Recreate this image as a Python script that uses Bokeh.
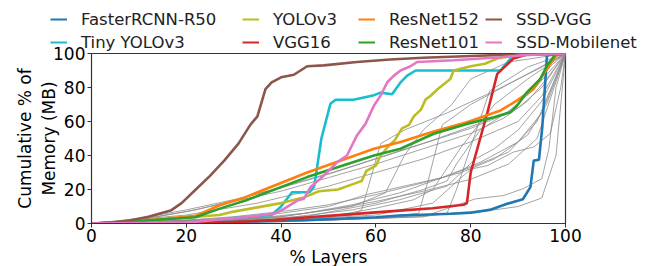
from bokeh.plotting import figure
from bokeh.layouts import column, row
from bokeh.models import Legend, LegendItem, Range1d, FixedTicker
from bokeh.embed import file_html
from bokeh.resources import INLINE

# ---- data (percent of layers vs cumulative % memory) ----
names = ["FasterRCNN-R50", "Tiny YOLOv3", "YOLOv3", "VGG16",
         "ResNet152", "ResNet101", "SSD-VGG", "SSD-Mobilenet"]
colors = ["#1f77b4", "#17becf", "#bcbd22", "#d62728",
          "#ff7f0e", "#2ca02c", "#8c564b", "#e377c2"]

frcnn_x = [0, 20, 31, 45, 60, 65, 76, 80, 84, 87.7, 91, 92.6, 93.3, 94.4, 95.1, 96.1, 100]
frcnn_y = [0, 0.3, 1, 2, 3.7, 4.7, 5.7, 6.3, 8, 11.6, 14.3, 21.4, 37, 37.5, 56.6, 99, 100]

tiny_x = [0, 20, 31, 38, 40, 42.3, 46, 47, 48.5, 50.4, 51.5, 55.3, 59.6, 61, 63.4, 65.2, 66.6, 68.4, 86.3, 88.4, 90, 100]
tiny_y = [0, 0.3, 3.5, 5, 10, 18.4, 18.4, 22, 50, 70.4, 72.8, 72.8, 75.5, 77, 76, 83, 87, 90, 90, 97, 99, 100]

yolo_x = [0, 10, 20, 27, 30, 35, 40, 45, 48, 52, 55, 57, 58, 60, 61, 62.5, 64, 65.5, 67, 68, 69.5, 70.5, 71.5, 73, 75.7, 76.4, 80, 83, 85.6, 91, 100]
yolo_y = [0, 1, 3.5, 5, 7, 9.5, 12, 15.5, 19, 20, 23, 25, 31, 34, 40, 45, 49, 56, 58, 63, 67, 73, 75, 79, 85, 90, 92.5, 94, 97, 100, 100]

vgg_x = [0, 20, 30, 38.5, 45, 55, 65, 72, 78.5, 79.2, 80, 83.5, 85.6, 89, 92, 100]
vgg_y = [0, 0.3, 0.8, 2, 3.5, 5.5, 7.6, 9, 11, 12, 30, 65, 88, 97, 99.5, 100]

r152_x = [0, 10, 19.8, 22, 26.9, 32.5, 45.5, 59.6, 65.2, 72, 79.2, 86.3, 89.8, 93.3, 96.1, 98.2, 100]
r152_y = [0, 1.5, 4, 4.5, 10.6, 15.5, 30, 44, 48, 54, 59.6, 66.5, 72.4, 79.2, 91, 99.5, 100]

r101_x = [0, 10, 21.9, 26.9, 32.5, 45.5, 59.6, 65.2, 72.2, 79.2, 84.9, 88.4, 89.8, 91.9, 94.7, 96.1, 97.9, 100]
r101_y = [0, 1.5, 3.7, 8.6, 13.5, 27.3, 40, 44, 52.8, 58.6, 62.5, 65.5, 69.4, 77.3, 85.1, 92.9, 99.5, 100]

ssdvgg_x = [0, 5, 8, 12, 16.7, 19, 22, 25, 28, 31, 33.5, 35, 36.7, 38, 40, 42.7, 45.5, 49, 56, 63, 70, 80, 90, 100]
ssdvgg_y = [0, 0.5, 1.8, 4, 7.6, 12, 20, 28, 37, 47, 58, 63, 79, 83, 86, 87.5, 92.5, 93, 95, 96.5, 97.5, 98.5, 99.5, 100]

ssdmob_x = [0, 20, 31.4, 38.5, 40.6, 43.4, 44.8, 46.2, 48.3, 51.8, 53.9, 56, 57.8, 59.6, 61, 62.4, 63.8, 65.2, 67.3, 68.7, 76.4, 86.3, 91, 100]
ssdmob_y = [0, 0.5, 3.5, 5.7, 8.6, 13.5, 14.5, 21.4, 26.3, 36, 40, 51.8, 58.6, 69.4, 75.3, 83.1, 87, 90, 92.5, 95, 96, 97.8, 99, 100]

series_x = [frcnn_x, tiny_x, yolo_x, vgg_x, r152_x, r101_x, ssdvgg_x, ssdmob_x]
series_y = [frcnn_y, tiny_y, yolo_y, vgg_y, r152_y, r101_y, ssdvgg_y, ssdmob_y]

# other (unlabelled) models, drawn in gray
gray_x = [
    [0, 10, 20, 30, 40, 50, 60, 70, 80, 88, 93, 97, 100],
    [0, 10, 20, 30, 40, 50, 60, 70, 80, 87, 92, 96, 100],
    [0, 12, 22, 32, 42, 52, 62, 72, 82, 90, 95, 100],
    [0, 20, 35, 50, 60, 70, 80, 90, 95, 100],
    [0, 20, 30, 40, 50, 60, 70, 78, 85, 92, 96, 100],
    [0, 25, 40, 50, 58, 66, 74, 82, 90, 95, 100],
    [0, 30, 40, 50, 60, 70, 80, 88, 94, 100],
    [0, 30, 45, 55, 65, 72, 80, 88, 94, 100],
    [0, 45, 55, 57, 61, 66, 75, 85, 95, 100],
    [0, 50, 62, 69, 71, 74, 80, 90, 100],
    [0, 60, 70, 75, 77, 80, 84, 92, 100],
    [0, 50, 70, 81, 87, 91, 95, 96.5, 98, 100],
    [0, 40, 60, 72, 80, 83.5, 89, 93.3, 96.8, 99, 100],
    [0, 40, 55, 65, 75, 81, 85, 90, 95, 100],
    [0, 45, 60, 70, 75, 77, 82, 88, 93, 100],
    [0, 30, 50, 60, 68, 72, 78, 85, 92, 100],
    [0, 40, 60, 70, 80, 85, 90, 95, 98, 100],
    [0, 40, 55, 62, 66, 70, 76, 80, 88, 100],
]
gray_y = [
    [0, 3, 8, 14, 21, 29, 38, 47, 56, 65, 79, 93, 100],
    [0, 2.5, 7, 13, 19, 27, 35, 44, 53, 62, 72, 85, 100],
    [0, 3, 8, 15, 23, 31, 40, 49, 59, 68, 80, 100],
    [0, 5, 12, 22, 30, 38, 48, 60, 75, 100],
    [0, 2, 4, 7, 11, 17, 24, 30, 38, 52, 70, 100],
    [0, 2, 6, 10, 17, 22, 27, 36, 48, 65, 100],
    [0, 2, 4, 8, 13, 19, 26, 35, 50, 100],
    [0, 2, 6, 11, 18, 25, 33, 42, 60, 100],
    [0, 3, 5, 8, 47, 55, 65, 78, 92, 100],
    [0, 2, 4, 6, 25, 58, 70, 85, 100],
    [0, 3, 4, 6, 20, 45, 78, 92, 100],
    [0, 2, 4, 14.5, 16.5, 20.4, 26.3, 44, 80, 100],
    [0, 2, 5, 12, 32, 34, 42, 45, 53, 80, 100],
    [0, 3, 8, 14, 22, 38, 44, 55, 72, 100],
    [0, 4, 12, 20, 25, 35, 55, 66, 78, 100],
    [0, 1, 4, 9, 14, 20, 45, 70, 85, 100],
    [0, 1, 3, 5, 7, 8, 10, 15, 40, 100],
    [0, 4, 10, 18, 40, 55, 70, 85, 95, 100],
]

ticks = [0, 20, 40, 60, 80, 100]

FONT = "DejaVu Sans"

# ---------------- main plot ----------------
p = figure(frame_width=474, frame_height=170, output_backend="svg", toolbar_location=None,
           x_range=Range1d(0, 100), y_range=Range1d(0, 100),
           min_border_left=91, min_border_right=40, min_border_top=12, min_border_bottom=0)
p.margin = (-12, 0, 0, 0)          # overlap the legend strip so the "100" label has room
p.border_fill_color = None          # let the legend strip show through the overlap
p.grid.visible = False
p.outline_line_color = "#333333"
p.outline_line_width = 1.2
p.background_fill_color = "white"

for gx, gy in zip(gray_x, gray_y):
    p.line(gx, gy, line_color="#8c8c8c", line_width=1, line_alpha=0.8)

for sx, sy, c in zip(series_x, series_y, colors):
    p.line(sx, sy, line_color=c, line_width=2.6)

for ax in (p.xaxis[0], p.yaxis[0]):
    ax.ticker = FixedTicker(ticks=ticks)
    ax.major_label_text_font = FONT
    ax.major_label_text_font_size = "17px"
    ax.major_label_text_color = "black"
    ax.axis_label_text_font = FONT
    ax.axis_label_text_font_size = "17px"
    ax.axis_label_text_font_style = "normal"
    ax.axis_label_text_color = "black"
    ax.minor_tick_line_color = None
    ax.major_tick_out = 4
    ax.major_tick_in = 0
    ax.axis_line_color = "#333333"
    ax.major_tick_line_color = "#333333"

p.xaxis.axis_label = "% Layers"
p.xaxis.major_label_standoff = 1
p.xaxis.axis_label_standoff = 2
p.yaxis.axis_label = "Cumulative % of\nMemory (MB)"
p.yaxis.major_label_standoff = 2
p.yaxis.axis_label_standoff = -9

# ---------------- legend strip above ----------------
lf = figure(width=640, height=53, output_backend="svg", toolbar_location=None,
            x_range=Range1d(0, 1), y_range=Range1d(0, 1),
            x_axis_location=None, y_axis_location=None,
            min_border_left=0, min_border_right=0, min_border_top=0, min_border_bottom=0)
lf.grid.visible = False
lf.outline_line_color = None

# legend-only renderers: data lie outside the strip's range, so only the legend shows them
leg_renderers = [lf.line([-2, -1], [-2, -1], line_color=c, line_width=2) for c in colors]

col_x = [50, 242, 358, 485]
for ci in range(4):
    items = [LegendItem(label=names[2 * ci + k], renderers=[leg_renderers[2 * ci + k]]) for k in range(2)]
    lg = Legend(items=items, location=(col_x[ci], 1), orientation="vertical",
                border_line_color=None, background_fill_alpha=0,
                padding=0, margin=0, spacing=3,
                glyph_width=17, glyph_height=20, label_height=20,
                label_standoff=14,
                label_text_font=FONT, label_text_font_size="16.5px",
                label_text_color="#222222")
    lf.add_layout(lg, "center")

layout = column(row(lf), row(p), spacing=0)
open("out.html", "w").write(file_html(layout, INLINE))
